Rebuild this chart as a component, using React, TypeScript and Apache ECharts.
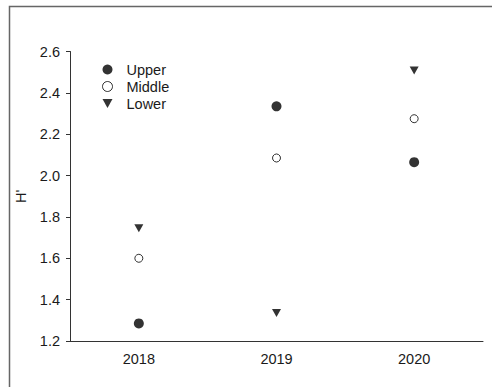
import React, { useEffect, useRef } from "react";
import * as echarts from "echarts";

// Shannon diversity (H') by year and river section
const years = ["2018", "2019", "2020"];
const upper = [1.285, 2.335, 2.065];
const middle = [1.6, 2.085, 2.275];
const lower = [1.745, 1.335, 2.508];
const yTicks = { min: 1.2, max: 2.6, step: 0.2 };

const FONT = "'Liberation Sans', Arial, sans-serif";
const FS = 14.5;
const TEXT = "#1a1a1a";
const AXIS = "#333";
const DOWN_TRIANGLE = "path://M0,0L10,0L5,9Z";

export default function App() {
  const ref = useRef<HTMLDivElement>(null);

  useEffect(() => {
    if (!ref.current) return;
    const chart = echarts.init(ref.current, undefined, { renderer: "svg" });
    chart.setOption({
      animation: false,
      backgroundColor: "#fff",
      textStyle: { fontFamily: FONT },
      graphic: [
        {
          type: "rect",
          shape: { x: 9.5, y: 6.5, width: 700, height: 700 },
          style: { fill: "none", stroke: "#666", lineWidth: 1.5 },
          silent: true,
        },
      ],
      legend: {
        orient: "vertical",
        left: 97,
        top: 57,
        itemWidth: 10,
        itemHeight: 10,
        itemGap: 2,
        textStyle: {
          fontFamily: FONT,
          fontSize: FS,
          color: TEXT,
          padding: [0, 0, 0, 9],
        },
        data: [
          { name: "Upper", icon: "circle" },
          { name: "Middle", icon: "circle", itemStyle: { borderWidth: 1 } },
          { name: "Lower", icon: DOWN_TRIANGLE },
        ],
      },
      grid: { left: 70, right: 9, top: 51.5, bottom: 46 },
      xAxis: {
        type: "category",
        data: years,
        boundaryGap: true,
        axisLine: { lineStyle: { color: AXIS, width: 1 } },
        axisTick: { alignWithLabel: true, length: 4, lineStyle: { color: AXIS } },
        axisLabel: { margin: 10, fontSize: FS, color: TEXT, fontFamily: FONT },
        splitLine: { show: false },
      },
      yAxis: {
        type: "value",
        min: yTicks.min,
        max: yTicks.max,
        interval: yTicks.step,
        name: "H'",
        nameLocation: "middle",
        nameGap: 42,
        nameRotate: 90,
        nameTextStyle: { fontSize: FS, color: TEXT, fontFamily: FONT },
        axisLine: { show: true, lineStyle: { color: AXIS, width: 1 } },
        axisTick: { show: true, length: 4, lineStyle: { color: AXIS } },
        axisLabel: {
          margin: 10,
          fontSize: FS,
          color: TEXT,
          fontFamily: FONT,
          formatter: (v: number) => v.toFixed(1),
        },
        splitLine: { show: false },
      },
      series: [
        {
          name: "Upper",
          type: "scatter",
          data: upper,
          symbol: "circle",
          symbolSize: 10,
          itemStyle: { color: "#000" },
        },
        {
          name: "Middle",
          type: "scatter",
          data: middle,
          symbol: "circle",
          symbolSize: 8,
          itemStyle: { color: "#fff", borderColor: "#000", borderWidth: 1 },
        },
        {
          name: "Lower",
          type: "scatter",
          data: lower,
          symbol: DOWN_TRIANGLE,
          symbolSize: [9, 8],
          itemStyle: { color: "#000" },
        },
      ],
    });
    return () => chart.dispose();
  }, []);

  return (
    <div
      ref={ref}
      style={{ position: "fixed", left: 0, top: 0, width: 492, height: 387, background: "#fff" }}
    />
  );
}
